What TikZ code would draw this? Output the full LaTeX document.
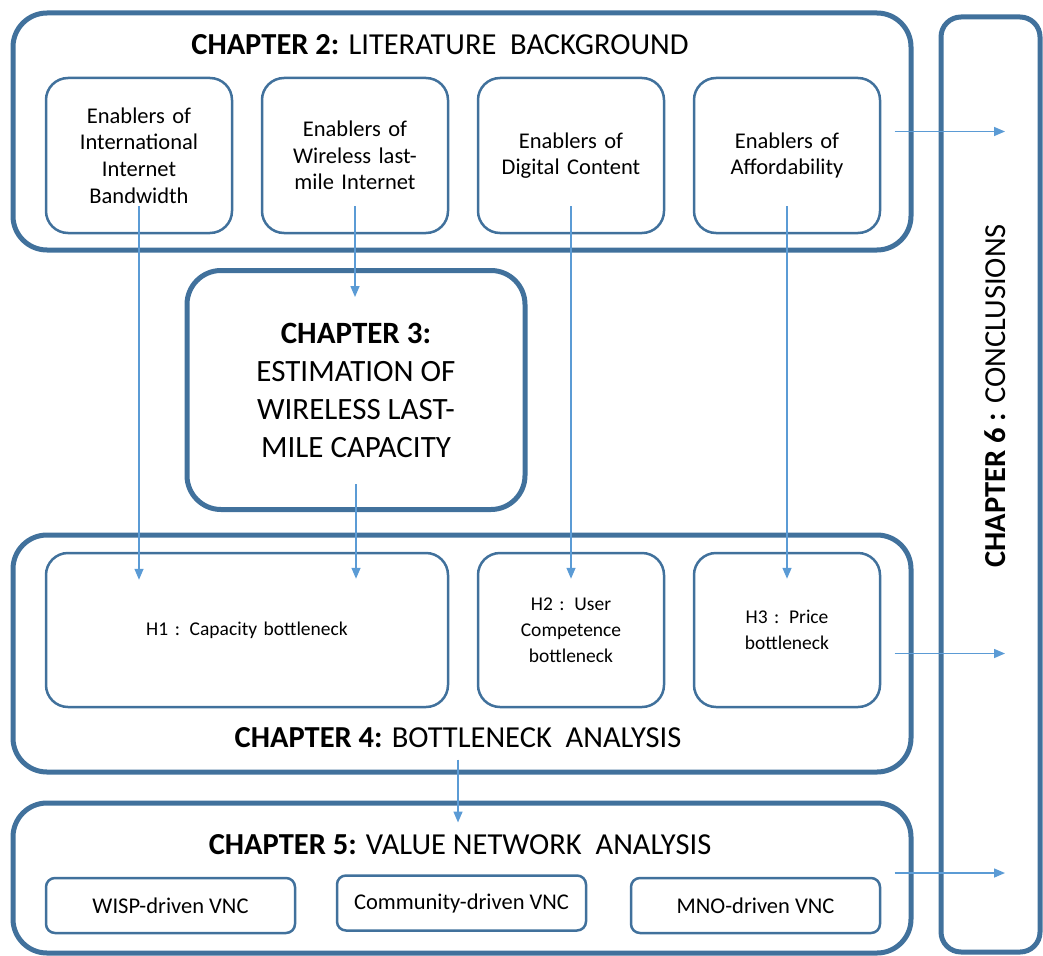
\documentclass[tikz,border=0pt]{standalone}
\usepackage{fontspec}
\setmainfont{Carlito}
\usetikzlibrary{arrows.meta}

\definecolor{boxblue}{HTML}{41719C}
\definecolor{linkblue}{HTML}{5B9BD5}

\begin{document}
\begin{tikzpicture}[x=1pt, y=-1pt,
    chapter/.style={draw=boxblue, line width=5pt, rounded corners=34pt,
        inner sep=0pt, align=center},
    part/.style={draw=boxblue, line width=2.5pt, rounded corners=22pt,
        inner sep=0pt, align=center, text width=176pt,
        font=\fontsize{22.5}{26.7}\selectfont},
    vnc/.style={draw=boxblue, line width=2.5pt, rounded corners=9pt,
        inner sep=0pt, align=center, minimum width=249pt, minimum height=55pt,
        font=\fontsize{22.5}{26}\selectfont},
    title/.style={font=\fontsize{30.5}{36}\selectfont},
    link/.style={draw=linkblue, line width=1.5pt,
        -{Triangle[length=11pt,width=9pt]}},
    ]
    \useasboundingbox (0,0) rectangle (1043,955);

    % chapter frames
    \node[chapter, minimum width=898pt, minimum height=237pt] (ch2) at (462,131.5) {};
    \node[chapter, minimum width=338pt, minimum height=239pt,
        font=\fontsize{31}{38}\selectfont] (ch3) at (356,390)
        {\textbf{CHAPTER 3:}\\ESTIMATION OF\\WIRELESS LAST-\\MILE CAPACITY};
    \node[chapter, minimum width=898pt, minimum height=237pt] (ch4) at (462,653.5) {};
    \node[chapter, minimum width=898pt, minimum height=150pt] (ch5) at (462,878) {};
    \node[chapter, rounded corners=20pt, minimum width=99pt, minimum height=935pt] (ch6) at (990.5,484.5) {};

    % titles
    \node[title] (t2) at (440,45) {\textbf{CHAPTER 2:} LITERATURE\ \ BACKGROUND};
    \node[title] (t4) at (458,738) {\textbf{CHAPTER 4:} BOTTLENECK\ \ ANALYSIS};
    \node[title] (t5) at (460,845) {\textbf{CHAPTER 5:} VALUE NETWORK\ \ ANALYSIS};
    \node[title, rotate=90] (t6) at (995,396) {\textbf{CHAPTER 6 :} CONCLUSIONS};

    % literature enablers
    \node[part, minimum width=186pt, minimum height=155pt] (e1) at (139,155.5)
        {Enablers of\\International\\Internet\\Bandwidth};
    \node[part, minimum width=186pt, minimum height=155pt] (e2) at (355,155.5)
        {Enablers of\\Wireless last-\\mile Internet};
    \node[part, minimum width=186pt, minimum height=155pt] (e3) at (571,155.5)
        {Enablers of\\Digital Content};
    \node[part, minimum width=186pt, minimum height=155pt] (e4) at (787,155.5)
        {Enablers of\\Affordability};

    % bottlenecks
    \node[part, text width=380pt, minimum width=402pt, minimum height=154pt,
        font=\fontsize{19.5}{26}\selectfont] (h1) at (247,630) {H1 : Capacity bottleneck};
    \node[part, minimum width=186pt, minimum height=154pt,
        font=\fontsize{19.5}{26}\selectfont] (h2) at (571,630) {H2 : User\\Competence\\bottleneck};
    \node[part, minimum width=186pt, minimum height=154pt,
        font=\fontsize{19.5}{26}\selectfont] (h3) at (787,630) {H3 : Price\\bottleneck};

    % value network configurations
    \node[vnc] (v1) at (170.5,905.5) {WISP-driven VNC};
    \node[vnc] (v2) at (461.5,903) {Community-driven VNC};
    \node[vnc] (v3) at (755.5,905.5) {MNO-driven VNC};

    % links
    \draw[link] ([yshift=28pt]e1.south) -- ([yshift=-28pt]h1.north -| e1.south);
    \draw[link] ([yshift=28pt]e2.south) -- ([yshift=-29pt]ch3.north -| e2.south);
    \draw[link] ([yshift=28pt]ch3.south) -- ([yshift=-27pt]h1.north -| ch3.south);
    \draw[link] ([yshift=28pt]e3.south) -- ([yshift=-27pt]h2.north);
    \draw[link] ([yshift=28pt]e4.south) -- ([yshift=-27pt]h3.north);
    \draw[link] ([yshift=15pt]ch4.south -| t4.south) -- ([yshift=-22pt]ch5.north -| t4.south);
    \draw[link] ([xshift=-19pt]ch2.east) -- ([xshift=14.5pt]ch2.east -| ch6.center);
    \draw[link] ([xshift=-19pt]ch4.east) -- ([xshift=14.5pt]ch4.east -| ch6.center);
    \draw[link] ([xshift=-19pt,yshift=5pt]ch5.east) -- ([xshift=14.5pt,yshift=5pt]ch5.east -| ch6.center);
\end{tikzpicture}
\end{document}
